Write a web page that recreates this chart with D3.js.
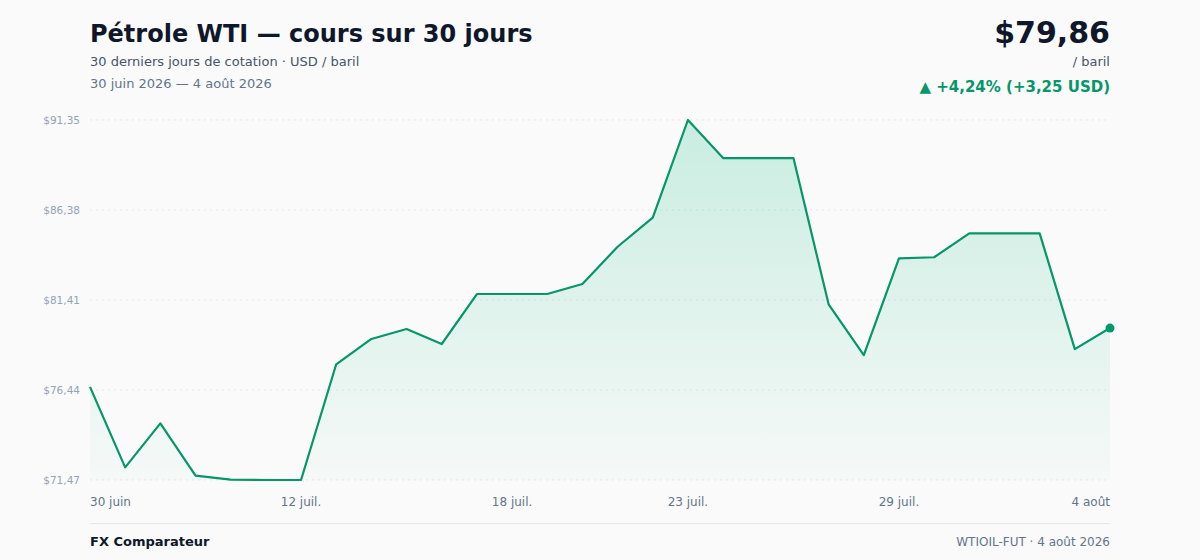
<!DOCTYPE html>
<html>
<head>
<meta charset="utf-8">
<script src="https://cdn.jsdelivr.net/npm/d3@7"></script>
<style>
  html, body { margin: 0; padding: 0; background: #fafafa; }
  body { font-family: "DejaVu Sans", sans-serif; }
</style>
</head>
<body>
<svg id="chart" width="1200" height="560"></svg>
<script>
// cours de cloture, 30 seances
var prices = [76.61, 72.17, 74.60, 71.71, 71.49, 71.47, 71.47, 77.86, 79.26, 79.81,
              78.98, 81.74, 81.74, 81.74, 82.29, 84.35, 85.96, 91.35, 89.25, 89.25,
              89.25, 81.17, 78.37, 83.71, 83.77, 85.09, 85.09, 85.09, 78.70, 79.86];
var tickIndex = [0, 6, 12, 17, 23, 29];
var tickLabels = ["30 juin", "12 juil.", "18 juil.", "23 juil.", "29 juil.", "4 août"];
var yTicks = [71.47, 76.44, 81.41, 86.38, 91.35];

var svg = d3.select("#chart");
var plotL = 90, plotR = 1110, plotT = 120, plotB = 480;
var green = "#059669";

var x = d3.scaleLinear().domain([0, prices.length - 1]).range([plotL, plotR]);
var y = d3.scaleLinear().domain([d3.min(prices), d3.max(prices)]).range([plotB, plotT]);

var fmt = function(v) { return "$" + v.toFixed(2).replace(".", ","); };

// gradient
var defs = svg.append("defs");
var grad = defs.append("linearGradient").attr("id", "fillGrad")
  .attr("x1", 0).attr("y1", 0).attr("x2", 0).attr("y2", 1);
grad.append("stop").attr("offset", "0%").attr("stop-color", "#10b981").attr("stop-opacity", 0.21);
grad.append("stop").attr("offset", "100%").attr("stop-color", "#10b981").attr("stop-opacity", 0.02);

// grid + y labels
svg.append("g").selectAll("line").data(yTicks).enter().append("line")
  .attr("x1", plotL).attr("x2", plotR)
  .attr("y1", d => y(d)).attr("y2", d => y(d))
  .attr("stroke", "#e5e7eb").attr("stroke-dasharray", "2,4");

svg.append("g").selectAll("text").data(yTicks).enter().append("text")
  .attr("x", 80).attr("y", d => y(d) + 4)
  .attr("text-anchor", "end")
  .attr("font-size", 10.5).attr("fill", "#94a3b8")
  .text(fmt);

// area + line
var area = d3.area().x((d, i) => x(i)).y0(plotB).y1(d => y(d));
var line = d3.line().x((d, i) => x(i)).y(d => y(d));

svg.append("path").datum(prices).attr("d", area).attr("fill", "url(#fillGrad)");
svg.append("path").datum(prices).attr("d", line)
  .attr("fill", "none").attr("stroke", green).attr("stroke-width", 2.2)
  .attr("stroke-linejoin", "round");

svg.append("circle")
  .attr("cx", x(prices.length - 1)).attr("cy", y(prices[prices.length - 1]))
  .attr("r", 4.5).attr("fill", green);

// x labels
svg.append("g").selectAll("text").data(tickIndex).enter().append("text")
  .attr("x", d => x(d)).attr("y", 506)
  .attr("text-anchor", (d, i) => i === 0 ? "start" : (i === tickIndex.length - 1 ? "end" : "middle"))
  .attr("font-size", 12).attr("fill", "#64748b")
  .text((d, i) => tickLabels[i]);

// header
svg.append("text").attr("x", 90).attr("y", 42)
  .attr("font-size", 24).attr("font-weight", "bold").attr("fill", "#0f172a")
  .text("Pétrole WTI — cours sur 30 jours");
svg.append("text").attr("x", 90).attr("y", 66)
  .attr("font-size", 13).attr("fill", "#475569")
  .text("30 derniers jours de cotation · USD / baril");
svg.append("text").attr("x", 90).attr("y", 88)
  .attr("font-size", 13).attr("fill", "#64748b")
  .text("30 juin 2026 — 4 août 2026");

var last = prices[prices.length - 1], first = prices[0];
var diff = last - first, pct = diff / first * 100;

svg.append("text").attr("x", 1110).attr("y", 43).attr("text-anchor", "end")
  .attr("font-size", 30).attr("font-weight", "bold").attr("fill", "#0f172a")
  .text(fmt(last));
svg.append("text").attr("x", 1110).attr("y", 66).attr("text-anchor", "end")
  .attr("font-size", 13).attr("fill", "#475569")
  .text("/ baril");
svg.append("text").attr("x", 1110).attr("y", 92).attr("text-anchor", "end")
  .attr("font-size", 15).attr("font-weight", "bold").attr("fill", green)
  .text("▲ +" + pct.toFixed(2).replace(".", ",") + "% (+" + diff.toFixed(2).replace(".", ",") + " USD)");

// footer
svg.append("line").attr("x1", 90).attr("x2", 1110).attr("y1", 523.5).attr("y2", 523.5)
  .attr("stroke", "#e5e7eb").attr("stroke-width", 1);
svg.append("text").attr("x", 90).attr("y", 546)
  .attr("font-size", 13).attr("font-weight", "bold").attr("fill", "#0f172a")
  .text("FX Comparateur");
svg.append("text").attr("x", 1110).attr("y", 546).attr("text-anchor", "end")
  .attr("font-size", 12).attr("fill", "#64748b")
  .text("WTIOIL-FUT · 4 août 2026");
</script>
</body>
</html>
